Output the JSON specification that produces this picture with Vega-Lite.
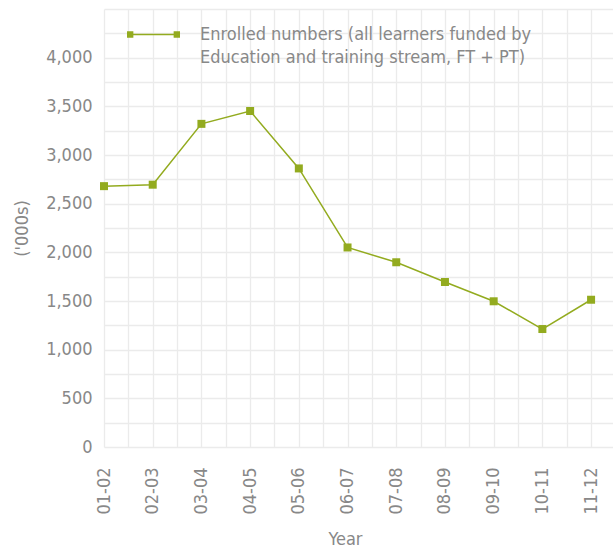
{
  "$schema": "https://vega.github.io/schema/vega-lite/v6.json",
  "width": 509,
  "height": 438,
  "autosize": {"type": "none"},
  "padding": {"left": 104, "top": 9, "right": 0, "bottom": 103},
  "background": "white",
  "config": {
    "view": {"stroke": null},
    "font": "DejaVu Sans Condensed",
    "axis": {
      "gridColor": "#ebebeb",
      "gridWidth": 1.3,
      "domain": false,
      "ticks": false,
      "tickSize": 0,
      "labelColor": "#888888",
      "titleColor": "#888888",
      "labelFont": "DejaVu Sans Condensed",
      "titleFont": "DejaVu Sans Condensed",
      "labelFontSize": 18,
      "titleFontSize": 18,
      "titleFontWeight": "normal",
      "labelOverlap": false,
      "labelFlush": false
    }
  },
  "data": {
    "values": [
      {"i": 0, "year": "01-02", "enrolled": 2680, "series": "Enrolled numbers (all learners funded by Education and training stream, FT + PT)"},
      {"i": 1, "year": "02-03", "enrolled": 2695, "series": "Enrolled numbers (all learners funded by Education and training stream, FT + PT)"},
      {"i": 2, "year": "03-04", "enrolled": 3320, "series": "Enrolled numbers (all learners funded by Education and training stream, FT + PT)"},
      {"i": 3, "year": "04-05", "enrolled": 3452, "series": "Enrolled numbers (all learners funded by Education and training stream, FT + PT)"},
      {"i": 4, "year": "05-06", "enrolled": 2862, "series": "Enrolled numbers (all learners funded by Education and training stream, FT + PT)"},
      {"i": 5, "year": "06-07", "enrolled": 2050, "series": "Enrolled numbers (all learners funded by Education and training stream, FT + PT)"},
      {"i": 6, "year": "07-08", "enrolled": 1898, "series": "Enrolled numbers (all learners funded by Education and training stream, FT + PT)"},
      {"i": 7, "year": "08-09", "enrolled": 1695, "series": "Enrolled numbers (all learners funded by Education and training stream, FT + PT)"},
      {"i": 8, "year": "09-10", "enrolled": 1497, "series": "Enrolled numbers (all learners funded by Education and training stream, FT + PT)"},
      {"i": 9, "year": "10-11", "enrolled": 1212, "series": "Enrolled numbers (all learners funded by Education and training stream, FT + PT)"},
      {"i": 10, "year": "11-12", "enrolled": 1513, "series": "Enrolled numbers (all learners funded by Education and training stream, FT + PT)"}
    ]
  },
  "encoding": {
    "x": {
      "field": "i",
      "type": "quantitative",
      "scale": {"domain": [0, 10.45], "nice": false, "zero": false},
      "axis": {
        "values": [0, 0.5, 1, 1.5, 2, 2.5, 3, 3.5, 4, 4.5, 5, 5.5, 6, 6.5, 7, 7.5, 8, 8.5, 9, 9.5, 10],
        "labelExpr": "datum.value % 1 == 0 ? ['01-02','02-03','03-04','04-05','05-06','06-07','07-08','08-09','09-10','10-11','11-12'][datum.value] : ''",
        "labelAngle": -90,
        "labelPadding": 20,
        "title": "Year",
        "titleX": 241,
        "titleY": 92,
        "titleBaseline": "middle",
        "titleAnchor": null,
        "titleAlign": "center"
      }
    },
    "y": {
      "field": "enrolled",
      "type": "quantitative",
      "scale": {"domain": [0, 4500], "nice": false},
      "axis": {
        "values": [0, 250, 500, 750, 1000, 1250, 1500, 1750, 2000, 2250, 2500, 2750, 3000, 3250, 3500, 3750, 4000, 4250, 4500],
        "labelExpr": "datum.value % 500 == 0 && datum.value < 4500 ? format(datum.value, ',') : ''",
        "labelPadding": 12,
        "title": "('000s)",
        "titleX": -82,
        "titleBaseline": "middle"
      }
    },
    "color": {
      "field": "series",
      "type": "nominal",
      "scale": {"range": ["#93ab1f"]},
      "legend": {
        "title": null,
        "orient": "none",
        "legendX": 23,
        "legendY": -1,
        "padding": 0,
        "symbolType": "M-1,-0.12H-0.76V0.12H-1Z M0.76,-0.12H1V0.12H0.76Z M-0.88,-0.028H0.88V0.028H-0.88Z",
        "symbolSize": 2809,
        "symbolStrokeWidth": 0,
        "labelOffset": 20,
        "labelFont": "DejaVu Sans Condensed",
        "labelFontSize": 18,
        "labelColor": "#888888",
        "labelLimit": 600,
        "labelBaseline": "middle",
        "labelExpr": "['Enrolled numbers (all learners funded by', 'Education and training stream, FT + PT)']",
        "encode": {
          "symbols": {"update": {"fill": {"value": "#93ab1f"}, "stroke": {"value": "transparent"}, "strokeWidth": {"value": 0}, "opacity": {"value": 1}}},
          "labels": {"update": {"lineHeight": {"value": 23}}}
        }
      }
    }
  },
  "layer": [
    {"mark": {"type": "line", "strokeWidth": 1.5}},
    {"mark": {"type": "square", "size": 64, "opacity": 1, "filled": true}}
  ]
}
